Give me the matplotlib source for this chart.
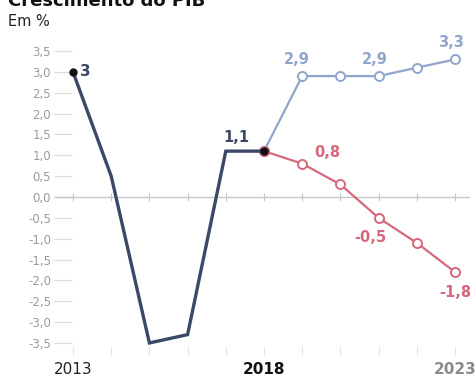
import matplotlib.pyplot as plt
import numpy as np

# PIB: realizado 2013-2018 e dois cenários até 2023
anos_hist = [2013, 2014, 2015, 2016, 2017, 2018]
pib_hist = [3.0, 0.5, -3.5, -3.3, 1.1, 1.1]

anos_proj = [2018, 2019, 2020, 2021, 2022, 2023]
pib_otimista = [1.1, 2.9, 2.9, 2.9, 3.1, 3.3]
pib_pessimista = [1.1, 0.8, 0.3, -0.5, -1.1, -1.8]

yticks = np.arange(-3.5, 3.51, 0.5)

c_hist = '#3b4868'
c_otim = '#8fa5cc'
c_pess = '#d7687b'
c_eixo = '#c8c8c8'

fig = plt.figure(figsize=(4.77, 3.81), dpi=100)
W, H = 477, 381
# eixo em pixels: esquerda 72, direita 470, topo 45, base 347
ax = fig.add_axes([72 / W, 1 - 347 / H, (470 - 72) / W, (347 - 45) / H])

# escala: 2013 em x=73, 38.2 px por ano; 0 em y=197, 41.7 px por unidade
x0 = 2013 - (73 - 72) / 38.2
x1 = 2013 + (470 - 73) / 38.2
ax.set_xlim(x0, x1)
ax.set_ylim(-(347 - 197) / 41.7, (197 - 45) / 41.7)

for s in ax.spines.values():
    s.set_visible(False)

anos = list(range(2013, 2024))

ax.axhline(0, color=c_eixo, lw=1, zorder=1)
ax.plot([x0 - 17 / 38.2, x0], [0, 0], color=c_eixo, lw=1, clip_on=False)
ax.plot(anos, [0] * len(anos), '|', color=c_eixo, ms=6, mew=0.8, zorder=1)

ax.set_yticks(yticks)
ax.set_yticklabels([f'{v:.1f}'.replace('.', ',') for v in yticks])
ax.tick_params(axis='y', length=13, width=0.9, color='#dcdcdc', labelcolor='#9a9a9a',
               labelsize=8.5, pad=2)

ax.set_xticks(anos)
ax.set_xticklabels([str(a) if a in (2013, 2018, 2023) else '' for a in anos])
ax.tick_params(axis='x', length=6, width=0.8, color='#e0e0e0', labelsize=11, pad=5)
for lab in ax.get_xticklabels():
    if lab.get_text() == '2018':
        lab.set_fontweight('bold')
        lab.set_color('#111111')
    elif lab.get_text() == '2023':
        lab.set_fontweight('bold')
        lab.set_color('#8a8a8a')
    else:
        lab.set_color('#222222')

# cenários
ax.plot(anos_proj, pib_otimista, color=c_otim, lw=1.6, marker='o', ms=6.5,
        mfc='white', mec=c_otim, mew=1.4, zorder=3, clip_on=False)
ax.plot(anos_proj, pib_pessimista, color=c_pess, lw=1.6, marker='o', ms=6.5,
        mfc='white', mec=c_pess, mew=1.4, zorder=3, clip_on=False)

# histórico
ax.plot(anos_hist, pib_hist, color=c_hist, lw=2.4, solid_joinstyle='miter', zorder=4,
        clip_on=False)
ax.plot([anos_hist[0], anos_hist[-1]], [pib_hist[0], pib_hist[-1]], 'o',
        color='#111111', ms=5, zorder=5, clip_on=False)

# rótulos
def rot(x, y, txt, cor, dx=0, dy=0, ha='center', size=10.5):
    ax.annotate(txt, (x, y), xytext=(dx, dy), textcoords='offset points',
                ha=ha, va='center', color=cor, fontsize=size, fontweight='bold')

fmt = lambda v: (f'{v:.1f}' if v != int(v) or abs(v) < 3 else f'{v:.0f}').replace('.', ',')

rot(anos_hist[0], pib_hist[0], '3', c_hist, dx=5, ha='left', size=11)
rot(anos_hist[-1], pib_hist[-1], fmt(pib_hist[-1]), c_hist, dx=-20, dy=10)
rot(anos_proj[1], pib_otimista[1], fmt(pib_otimista[1]), c_otim, dx=-4, dy=12)
rot(anos_proj[3], pib_otimista[3], fmt(pib_otimista[3]), c_otim, dx=-3, dy=12)
rot(anos_proj[5], pib_otimista[5], fmt(pib_otimista[5]), c_otim, dx=-3, dy=12)
rot(anos_proj[1], pib_pessimista[1], fmt(pib_pessimista[1]), c_pess, dx=18, dy=8)
rot(anos_proj[3], pib_pessimista[3], fmt(pib_pessimista[3]), c_pess, dx=-6, dy=-14)
rot(anos_proj[5], pib_pessimista[5], fmt(pib_pessimista[5]), c_pess, dx=0, dy=-15)

fig.text(8 / W, 1 - 6 / H, 'Crescimento do PIB', fontsize=13, fontweight='bold',
         color='#111111', ha='left', va='baseline')
fig.text(8 / W, 1 - 22 / H, 'Em %', fontsize=10.5, color='#222222', ha='left', va='center')

fig.savefig('out.png', dpi=100, facecolor='white')
